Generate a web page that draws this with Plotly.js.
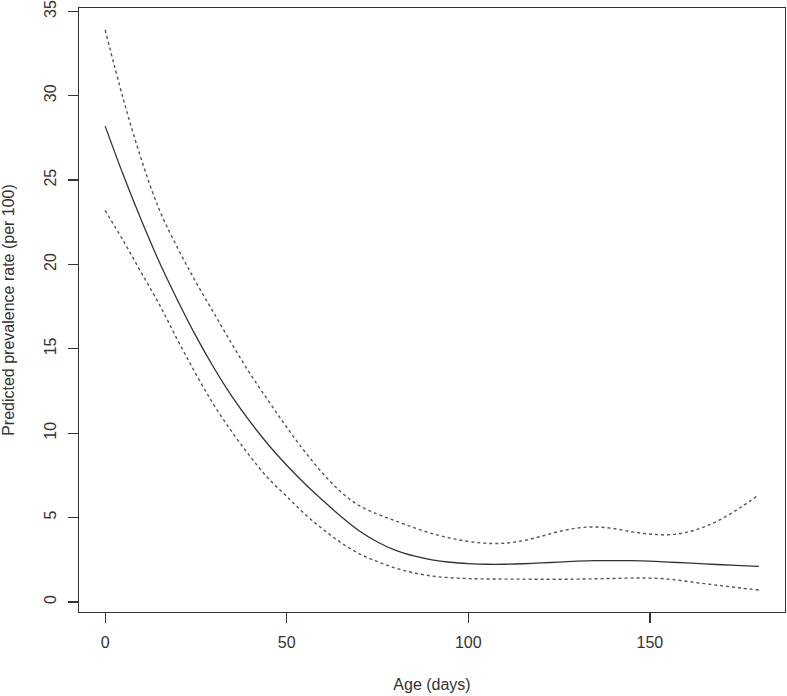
<!DOCTYPE html>
<html>
<head>
<meta charset="utf-8">
<script src="https://cdn.plot.ly/plotly-3.0.1.min.js"></script>
<style>html,body{margin:0;padding:0;background:#fff;}#chart{width:787px;height:696px;}</style>
</head>
<body>
<div id="chart"></div>
<script>
var ageDays = [0,5,10,15,20,25,30,35,40,45,50,55,60,65,70,75,80,85,90,95,100,105,110,115,120,125,130,135,140,145,150,155,160,165,170,175,180];
var predicted = [28.2,25.3,22.6,20.1,17.85,15.75,13.85,12.15,10.65,9.3,8.1,7.0,6.0,5.05,4.2,3.55,3.05,2.72,2.49,2.35,2.27,2.23,2.23,2.26,2.31,2.36,2.41,2.44,2.45,2.44,2.41,2.36,2.31,2.25,2.20,2.15,2.10];
var upperCI = [33.9,29.8,26.2,23.2,20.95,18.95,17.1,15.25,13.5,11.9,10.35,8.9,7.6,6.5,5.7,5.2,4.8,4.4,4.05,3.78,3.58,3.47,3.48,3.62,3.88,4.17,4.38,4.44,4.35,4.15,4.02,3.98,4.12,4.45,4.95,5.6,6.35];
var lowerCI = [23.2,21.4,19.5,17.6,15.5,13.5,11.65,10.05,8.6,7.3,6.25,5.2,4.3,3.5,2.85,2.38,2.0,1.72,1.53,1.43,1.38,1.36,1.35,1.35,1.34,1.34,1.35,1.37,1.39,1.41,1.41,1.35,1.22,1.08,0.95,0.82,0.7];
var xTicks = [0,50,100,150];
var yTicks = [0,5,10,15,20,25,30,35];

var fontFam = "Liberation Sans, Arial, sans-serif";
var traces = [
  {x: ageDays, y: upperCI, mode: 'lines', line: {color: '#555', width: 1.4, dash: '3px,3px', shape: 'spline', smoothing: 1}, hoverinfo: 'skip'},
  {x: ageDays, y: lowerCI, mode: 'lines', line: {color: '#555', width: 1.4, dash: '3px,3px', shape: 'spline', smoothing: 1}, hoverinfo: 'skip'},
  {x: ageDays, y: predicted, mode: 'lines', line: {color: '#333', width: 1.3, shape: 'spline', smoothing: 1}, hoverinfo: 'skip'}
];
var layout = {
  width: 787, height: 696,
  margin: {l: 79, r: 2, t: 8, b: 84},
  paper_bgcolor: '#fff', plot_bgcolor: '#fff',
  showlegend: false,
  font: {family: fontFam, size: 16, color: '#333'},
  xaxis: {
    range: [-7.2, 187.2], tickvals: xTicks, ticktext: xTicks.map(String),
    showgrid: false, zeroline: false, showline: true, mirror: true,
    linecolor: '#333', linewidth: 1.3, ticks: 'outside', ticklen: 10, tickwidth: 1.3, tickcolor: '#333',
    ticklabelstandoff: 5, ticklabeloverflow: 'allow',
    title: {text: 'Age (days)', font: {family: fontFam, size: 16, color: '#333'}, standoff: 29}
  },
  yaxis: {
    range: [-0.6, 35.2], tickvals: yTicks, ticktext: yTicks.map(String), tickangle: -90,
    showgrid: false, zeroline: false, showline: true, mirror: true,
    linecolor: '#333', linewidth: 1.3, ticks: 'outside', ticklen: 10, tickwidth: 1.3, tickcolor: '#333',
    ticklabelstandoff: 5, ticklabeloverflow: 'allow',
    title: {text: 'Predicted prevalence rate (per 100)', font: {family: fontFam, size: 16, color: '#333'}, standoff: 25}
  }
};
Plotly.newPlot('chart', traces, layout, {staticPlot: true, displayModeBar: false});
</script>
</body>
</html>
